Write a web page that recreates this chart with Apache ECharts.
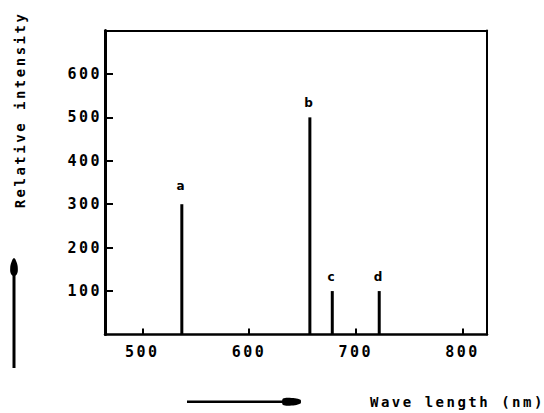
<!DOCTYPE html>
<html>
<head>
<meta charset="utf-8">
<title>Emission spectrum</title>
<script src="https://cdn.jsdelivr.net/npm/echarts@6/dist/echarts.min.js"></script>
<style>
  html, body { margin: 0; padding: 0; background: #fff; }
  #chart { width: 544px; height: 413px; }
  /* typewriter-style spacing for every label in the plot */
  #chart text { letter-spacing: 2.5px; }
</style>
</head>
<body>
<div id="chart"></div>
<script>
// Emission lines: wavelength (nm) and relative intensity
const wavelengths = [537, 657, 678, 722];
const intensities = [300, 500, 100, 100];
const peakNames = ['a', 'b', 'c', 'd'];
const labelGaps = [12, 8, 8, 8];

// Axis ticks
const xTicks = [500, 600, 700, 800];
const yTicks = [100, 200, 300, 400, 500, 600];

const MONO = '"DejaVu Sans Mono", monospace';
const INK = '#000';

const chart = echarts.init(document.getElementById('chart'), null, { renderer: 'svg' });

const peaks = wavelengths.map((w, i) => ({
  value: [w, intensities[i]],
  label: { distance: labelGaps[i] }
}));

chart.setOption({
  backgroundColor: '#fff',
  animation: false,
  grid: { left: 105, right: 57, top: 30.5, bottom: 78.5 },
  xAxis: [
    {
      type: 'value',
      position: 'bottom',
      min: 465,
      max: 823,
      axisLine: { onZero: false, lineStyle: { color: INK, width: 2.5 } },
      axisTick: { inside: true, length: 6, customValues: xTicks, lineStyle: { color: INK, width: 2 } },
      axisLabel: { customValues: xTicks, margin: 10, color: INK, fontFamily: MONO, fontWeight: 'bold', fontSize: 15 },
      splitLine: { show: false }
    },
    {
      type: 'value',
      position: 'top',
      min: 465,
      max: 823,
      axisLine: { onZero: false, lineStyle: { color: INK, width: 2 } },
      axisTick: { show: false },
      axisLabel: { show: false },
      splitLine: { show: false }
    }
  ],
  yAxis: [
    {
      type: 'value',
      position: 'left',
      min: 0,
      max: 700,
      interval: 100,
      axisLine: { onZero: false, lineStyle: { color: INK, width: 3 } },
      axisTick: { inside: true, length: 8, customValues: yTicks, lineStyle: { color: INK, width: 2 } },
      axisLabel: { customValues: yTicks, margin: 3, color: INK, fontFamily: MONO, fontWeight: 'bold', fontSize: 15 },
      splitLine: { show: false }
    },
    {
      type: 'value',
      position: 'right',
      min: 0,
      max: 700,
      interval: 100,
      axisLine: { onZero: false, lineStyle: { color: INK, width: 2 } },
      axisTick: { show: false },
      axisLabel: { show: false },
      splitLine: { show: false }
    }
  ],
  series: [
    {
      type: 'bar',
      xAxisIndex: 0,
      yAxisIndex: 0,
      barWidth: 3,
      itemStyle: { color: INK },
      label: {
        show: true,
        position: 'top',
        formatter: (p) => peakNames[p.dataIndex],
        color: INK,
        fontFamily: '"DejaVu Sans", sans-serif',
        fontWeight: 'bold',
        fontSize: 12
      },
      data: peaks
    }
  ],
  graphic: [
    // vertical axis title and its arrow
    {
      type: 'text',
      x: 20,
      y: 110,
      rotation: Math.PI / 2,
      style: {
        text: 'Relative intensity',
        fill: INK,
        font: 'bold 14px "DejaVu Sans Mono", monospace',
        textAlign: 'center',
        textVerticalAlign: 'middle'
      }
    },
    {
      type: 'line',
      shape: { x1: 14, y1: 368, x2: 14, y2: 268 },
      style: { stroke: INK, lineWidth: 3 }
    },
    {
      type: 'polygon',
      shape: {
        points: [[14, 258], [16.5, 262], [17.8, 268], [17, 274], [14, 276], [11, 274], [10.2, 268], [11.5, 262]],
        smooth: 0.4
      },
      style: { fill: INK }
    },
    // horizontal axis title and its arrow
    {
      type: 'text',
      x: 370,
      y: 402,
      style: {
        text: 'Wave length (nm)',
        fill: INK,
        font: 'bold 14px "DejaVu Sans Mono", monospace',
        textAlign: 'left',
        textVerticalAlign: 'middle'
      }
    },
    {
      type: 'line',
      shape: { x1: 187, y1: 401.7, x2: 290, y2: 401.7 },
      style: { stroke: INK, lineWidth: 2.5 }
    },
    {
      type: 'polygon',
      shape: {
        points: [[283, 398.5], [295, 398.2], [300.5, 399.8], [301, 401.7], [300.5, 403.6], [295, 405.2], [283, 404.9]],
        smooth: 0.3
      },
      style: { fill: INK }
    }
  ]
});
</script>
</body>
</html>
